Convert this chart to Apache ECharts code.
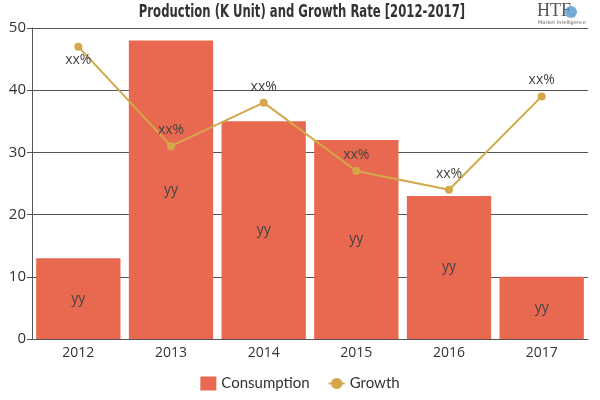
<!DOCTYPE html>
<html><head><meta charset="utf-8">
<script src="https://cdn.jsdelivr.net/npm/echarts@6/dist/echarts.min.js"></script>
<style>html,body{margin:0;padding:0;background:#fff}#c{width:600px;height:400px}</style>
</head><body><div id="c"></div>
<script>
var categories = ['2012','2013','2014','2015','2016','2017'];
var consumption = [13, 48, 35, 32, 23, 10];
var growth = [47, 31, 38, 27, 24, 39];
var barLabel = 'yy';
var lineLabel = 'xx%';
var yTicks = [0, 10, 20, 30, 40, 50];
var titleText = 'Production (K Unit) and Growth Rate [2012-2017]';

var chart = echarts.init(document.getElementById('c'));
chart.setOption({
  animation: false,
  graphic: [
    {type: 'text', x: 302, y: 3, scaleX: 0.72, originX: 0,
     style: {text: titleText, font: 'bold 18px "DejaVu Sans Condensed", "DejaVu Sans"', fill: '#333', textAlign: 'center', textVerticalAlign: 'top'}},
    {type: 'text', x: 537, y: 2, style: {text: 'HTF', font: '18px "Liberation Serif"', fill: '#555'}},
    {type: 'circle', shape: {cx: 571, cy: 12, r: 6}, style: {fill: '#4a8fc9', opacity: 0.75}},
    {type: 'text', x: 538, y: 20, style: {text: 'Market Intelligence', font: '5px "DejaVu Sans"', fill: '#666'}}
  ],
  legend: {
    bottom: 4, left: 'center', itemGap: 18, itemWidth: 16, itemHeight: 14,
    textStyle: {fontFamily: 'Lato', fontSize: 15, color: '#333'},
    data: [{name: 'Consumption', icon: 'rect'}, {name: 'Growth'}]
  },
  grid: {left: 32, right: 12, top: 28, bottom: 61},
  xAxis: {
    type: 'category', data: categories,
    axisLine: {lineStyle: {color: '#555'}},
    axisTick: {lineStyle: {color: '#555'}},
    axisLabel: {color: '#333', fontSize: 14, fontFamily: 'Open Sans', margin: 7}
  },
  yAxis: {
    type: 'value', min: yTicks[0], max: yTicks[yTicks.length-1], interval: 10,
    axisLine: {show: true, lineStyle: {color: '#555'}},
    axisTick: {show: true, lineStyle: {color: '#555'}},
    axisLabel: {color: '#333', fontSize: 15, fontFamily: 'Open Sans', margin: 6},
    splitLine: {lineStyle: {color: '#555'}}
  },
  series: [
    {
      name: 'Consumption', type: 'bar', data: consumption, barCategoryGap: '9%',
      itemStyle: {color: '#e8694f'},
      label: {show: true, position: 'inside', formatter: barLabel, color: '#444', fontSize: 14, fontFamily: 'Open Sans'}
    },
    {
      name: 'Growth', type: 'line', data: growth.map(function(v, i){
        return i === 0 ? {value: v, label: {position: 'bottom', distance: 2}} : v;
      }),
      symbol: 'circle', symbolSize: 8,
      lineStyle: {color: '#d4a74a', width: 2}, itemStyle: {color: '#d4a74a'},
      label: {show: true, position: 'top', formatter: lineLabel, color: '#444', fontSize: 14, fontFamily: 'Open Sans', distance: 5}
    }
  ]
});
</script></body></html>
